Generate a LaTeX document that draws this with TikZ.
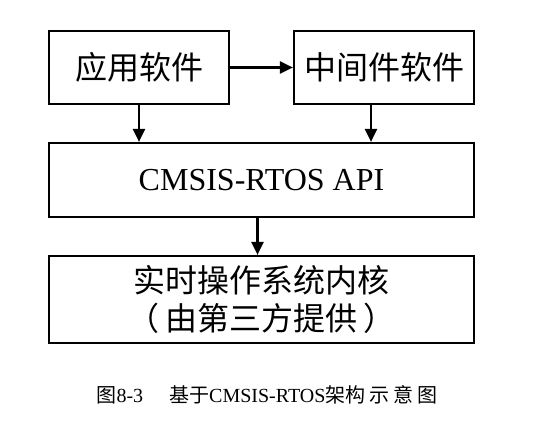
\documentclass[tikz,border=0pt]{standalone}
\usepackage{fontspec}
\setmainfont{Liberation Serif}
\newfontfamily\cjk{Noto Sans CJK SC}
\usetikzlibrary{positioning,
	calc,
	arrows.meta}

\tikzset{
	blk/.style={draw, line width=2.2pt, inner sep=0pt, align=center,
		font=\fontsize{32}{38}\selectfont},
	flow/.style={line width=2.2pt, -{Triangle[length=13pt,width=12pt]}}
}

\begin{document}
\begin{tikzpicture}[x=1pt, y=-1pt]
	\useasboundingbox (0, 0) rectangle (554, 431);
	\node[blk, minimum width=180pt, minimum height=73pt] (app) at (139, 67.5) {\cjk 应用软件};
	\node[blk, minimum width=180pt, minimum height=73pt] (mid) at (384, 67.5) {\cjk 中间件软件};
	\node[blk, minimum width=425pt, minimum height=74pt] (api) at (261.5, 180) {CMSIS-RTOS API};
	\node[blk, minimum width=425pt, minimum height=87pt] (kern) at (261.5, 299.5) {\cjk 实时操作系统内核\\\cjk （\hspace{6pt}由第三方提供\hspace{6pt}）};
	\node[font=\fontsize{20}{24}\selectfont] (cap) at (267, 395) {{\cjk 图}8-3\hspace{26pt}{\cjk 基于}CMSIS-RTOS{\cjk 架构\hspace{4pt}示\hspace{4pt}意\hspace{4pt}图}};
	\draw[flow] (app) -- (mid);
	\draw[flow] (app.south) -- (app.south |- api.north);
	\draw[flow] ([xshift=-13pt]mid.south) -- ([xshift=-13pt]mid.south |- api.north);
	\draw[flow] ([xshift=-4pt]api.south) -- ([xshift=-4pt]api.south |- kern.north);
\end{tikzpicture}
\end{document}
